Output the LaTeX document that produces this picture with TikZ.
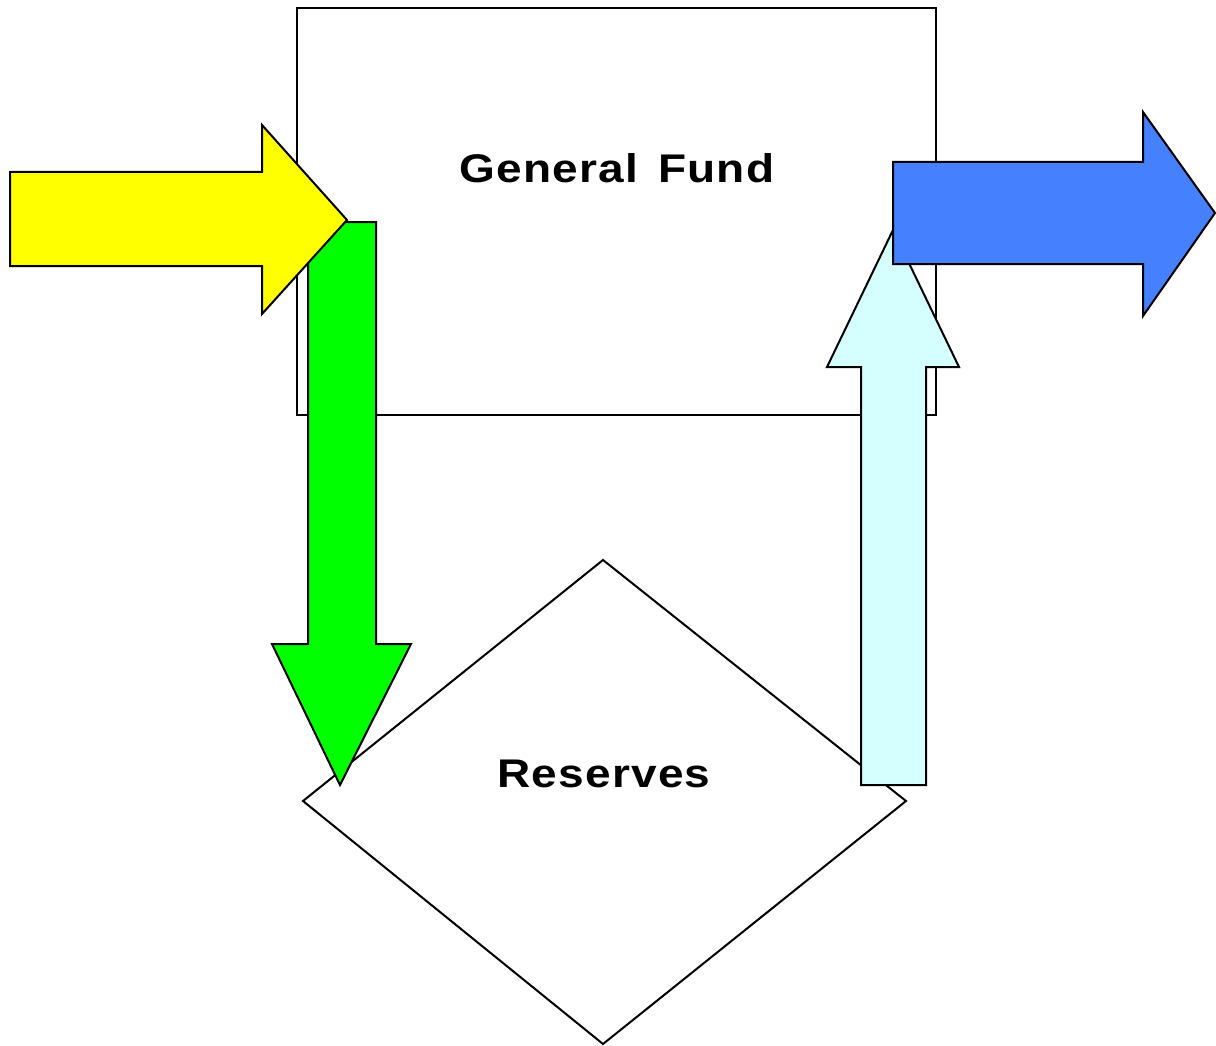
\documentclass[tikz,border=0pt]{standalone}
\usepackage{fontspec}
\setmainfont{Liberation Sans}[LetterSpace=3, FakeStretch=1.15]
\definecolor{arrYellow}{HTML}{FFFF00}
\definecolor{arrGreen}{HTML}{00FF00}
\definecolor{arrCyan}{HTML}{D5FFFF}
\definecolor{arrBlue}{HTML}{4580FF}
\tikzset{
  outline/.style={draw=black, line width=2pt},
  fundbox/.style={outline, fill=white, rectangle, inner sep=0pt, minimum width=639pt, minimum height=407pt},
  lbl/.style={font=\fontsize{40}{40}\selectfont\bfseries, inner sep=0pt},
  fatarrow/.style={outline, line join=miter}
}
\begin{document}
\begin{tikzpicture}[x=1pt, y=-1pt]
\useasboundingbox (0,0) rectangle (1216,1046);
\node[fundbox] (gf) at (616.5,211.5) {};
\node[lbl] (gft) at (617,168) {General\hspace{0.5em}Fund};
\draw[outline, fill=white] (603,560) -- (906,801) -- (603,1044) -- (303,801) -- cycle;
\coordinate (rescenter) at (604,802);
\node[lbl] (rest) at (604,774) {Reserves};
% green arrow down
\draw[fatarrow, fill=arrGreen] (308,222) -- (376,222) -- (376,644) -- (411,644) -- (340,785) -- (272,644) -- (308,644) -- cycle;
% yellow arrow right
\draw[fatarrow, fill=arrYellow] (10,172) -- (262,172) -- (262,125) -- (347,220) -- (262,314) -- (262,266) -- (10,266) -- cycle;
% cyan arrow up
\draw[fatarrow, fill=arrCyan] (861,785) -- (926,785) -- (926,367) -- (959,367) -- (893,230) -- (827,367) -- (861,367) -- cycle;
% blue arrow right
\draw[fatarrow, fill=arrBlue] (893,162) -- (1143,162) -- (1143,112) -- (1215,213) -- (1143,316) -- (1143,264) -- (893,264) -- cycle;
\end{tikzpicture}
\end{document}
